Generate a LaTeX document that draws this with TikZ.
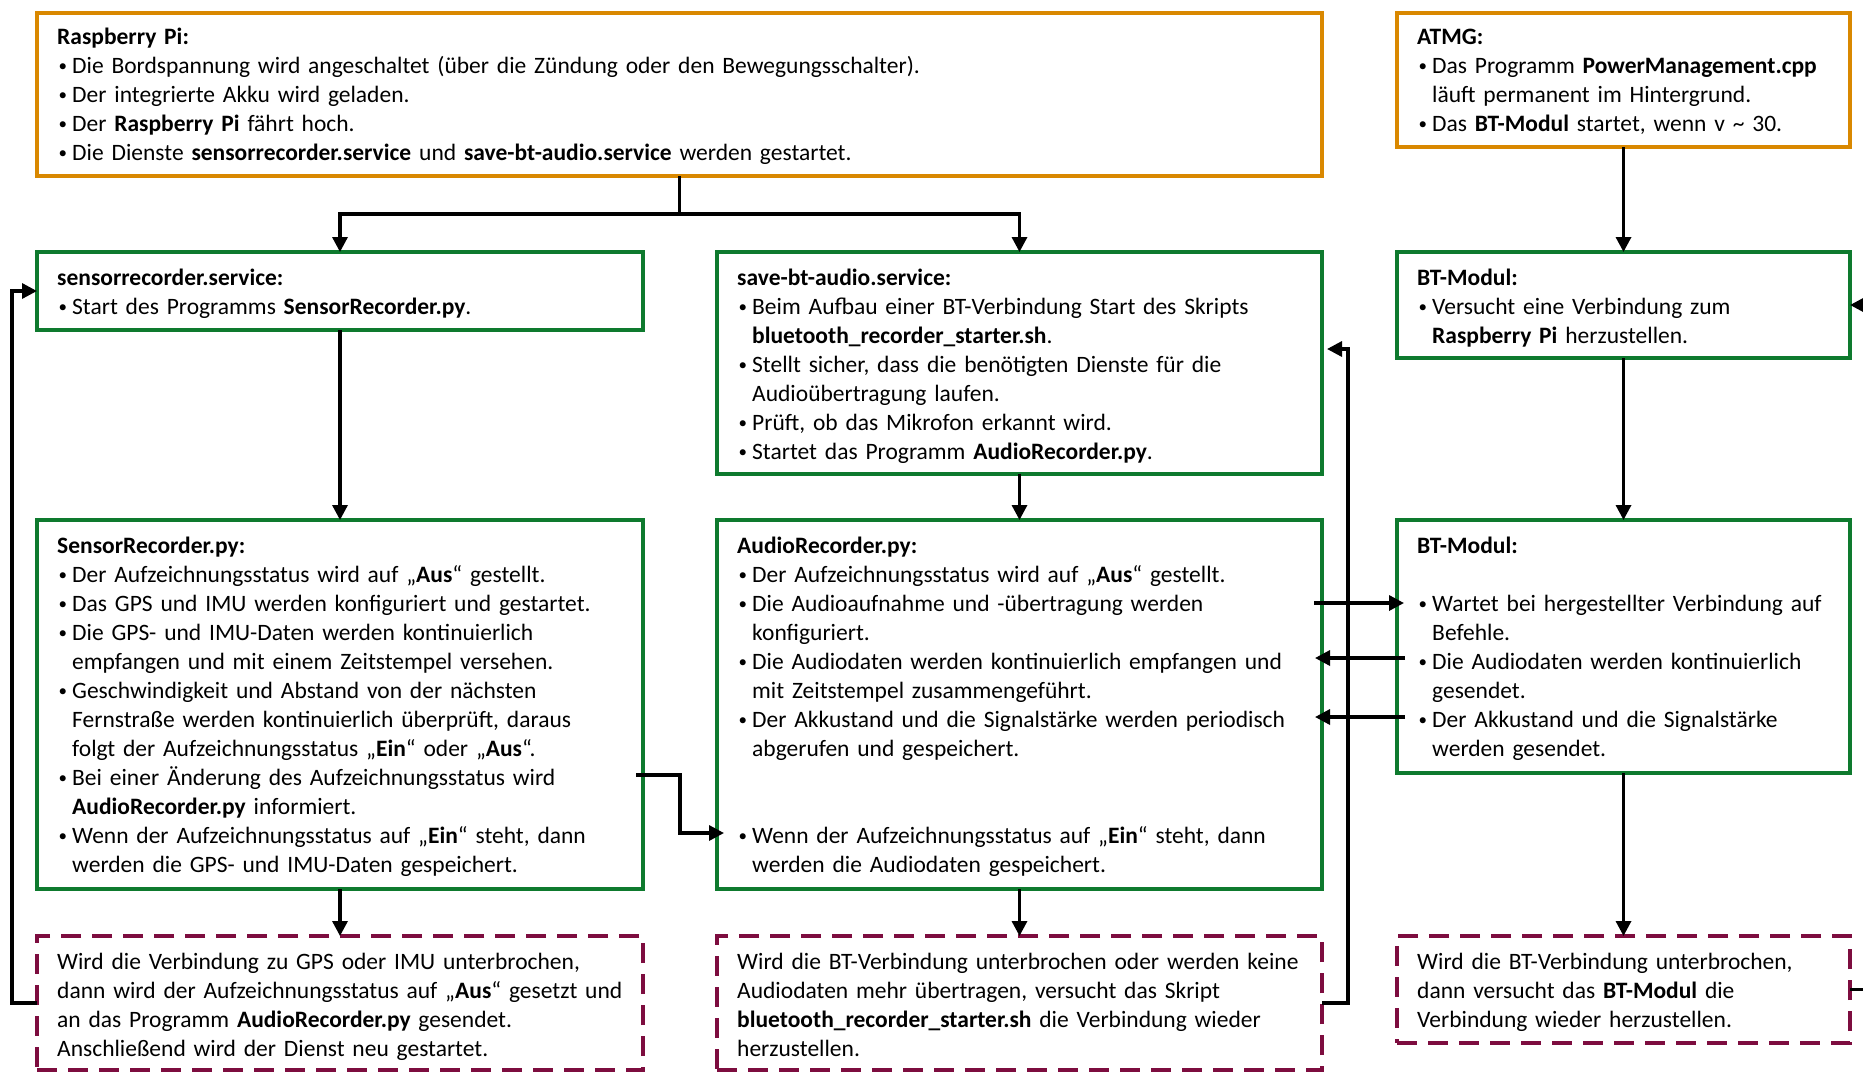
\documentclass[tikz,border=0pt]{standalone}
\usepackage{fontspec}
\setmainfont{Carlito}
\usetikzlibrary{arrows.meta,calc}
\definecolor{orangeC}{HTML}{D98800}
\definecolor{greenC}{HTML}{0E7A2E}
\definecolor{maroonC}{HTML}{7D0D3F}
\newcommand{\fs}{\fontsize{23.5}{29}\selectfont}
\newcommand{\bl}[1]{\makebox[15pt][l]{\hspace{1.5pt}\raisebox{1.8pt}{\fontsize{17}{17}\selectfont •}}#1}
\newcommand{\cl}[1]{\hspace*{15pt}#1}
\begin{document}
\begin{tikzpicture}[x=1pt,y=-1pt,
  bx/.style={rectangle, inner sep=0pt, outer sep=0pt, anchor=north west, line width=4pt},
  obox/.style={bx, draw=orangeC},
  gbox/.style={bx, draw=greenC},
  dbox/.style={bx, draw=maroonC, dash pattern=on 20pt off 11pt},
  txt/.style={anchor=base west, inner sep=0pt, align=left, text width=1100pt, font=\fs},
  ln/.style={line width=3.3pt, draw=black},
  arr/.style={ln, -{Triangle[length=15pt,width=15pt]}}]
\useasboundingbox (0,0) rectangle (1863,1072);
\fill[white] (0,0) rectangle (1863,1072);
\clip (0,0) rectangle (1863,1072);

% boxes
\node[obox, minimum width=1285pt, minimum height=163pt] (rpi) at (37,13) {};
\node[obox, minimum width=453pt, minimum height=134pt] (atmg) at (1397,13) {};
\node[gbox, minimum width=606pt, minimum height=78pt] (srs) at (37,252) {};
\node[gbox, minimum width=605pt, minimum height=222pt] (sbs) at (717,252) {};
\node[gbox, minimum width=453pt, minimum height=106pt] (bt1) at (1397,252) {};
\node[gbox, minimum width=606pt, minimum height=369pt] (srp) at (37,520) {};
\node[gbox, minimum width=605pt, minimum height=369pt] (arp) at (717,520) {};
\node[gbox, minimum width=453pt, minimum height=253pt] (bt2) at (1397,520) {};
\node[dbox, minimum width=606pt, minimum height=134pt] (d1) at (37,936) {};
\node[dbox, minimum width=605pt, minimum height=134pt] (d2) at (717,936) {};
\node[dbox, minimum width=453pt, minimum height=107pt] (d3) at (1397,936) {};

% texts
\node[txt] (trpi) at (57,44) {\textbf{Raspberry Pi:}\\
\bl{Die Bordspannung wird angeschaltet (über die Zündung oder den Bewegungsschalter).}\\
\bl{Der integrierte Akku wird geladen.}\\
\bl{Der \textbf{Raspberry Pi} fährt hoch.}\\
\bl{Die Dienste \textbf{sensorrecorder.service} und \textbf{save-bt-audio.service} werden gestartet.}};

\node[txt] (tatmg) at (1417,44) {\textbf{ATMG:}\\
\bl{Das Programm \textbf{PowerManagement.cpp}}\\
\cl{läuft permanent im Hintergrund.}\\
\bl{Das \textbf{BT-Modul} startet, wenn v \textasciitilde{} 30.}};

\node[txt] (tsrs) at (57,285) {\textbf{sensorrecorder.service:}\\
\bl{Start des Programms \textbf{SensorRecorder.py}.}};

\node[txt] (tsbs) at (737,285) {\textbf{save-bt-audio.service:}\\
\bl{Beim Aufbau einer BT-Verbindung Start des Skripts}\\
\cl{\textbf{bluetooth\_recorder\_starter.sh}.}\\
\bl{Stellt sicher, dass die benötigten Dienste für die}\\
\cl{Audioübertragung laufen.}\\
\bl{Prüft, ob das Mikrofon erkannt wird.}\\
\bl{Startet das Programm \textbf{AudioRecorder.py}.}};

\node[txt] (tbt1) at (1417,285) {\textbf{BT-Modul:}\\
\bl{Versucht eine Verbindung zum}\\
\cl{\textbf{Raspberry Pi} herzustellen.}};

\node[txt] (tsrp) at (57,553) {\textbf{SensorRecorder.py:}\\
\bl{Der Aufzeichnungsstatus wird auf „\textbf{Aus}“ gestellt.}\\
\bl{Das GPS und IMU werden konfiguriert und gestartet.}\\
\bl{Die GPS- und IMU-Daten werden kontinuierlich}\\
\cl{empfangen und mit einem Zeitstempel versehen.}\\
\bl{Geschwindigkeit und Abstand von der nächsten}\\
\cl{Fernstraße werden kontinuierlich überprüft, daraus}\\
\cl{folgt der Aufzeichnungsstatus „\textbf{Ein}“ oder „\textbf{Aus}“.}\\
\bl{Bei einer Änderung des Aufzeichnungsstatus wird}\\
\cl{\textbf{AudioRecorder.py} informiert.}\\
\bl{Wenn der Aufzeichnungsstatus auf „\textbf{Ein}“ steht, dann}\\
\cl{werden die GPS- und IMU-Daten gespeichert.}};

\node[txt] (tarp) at (737,553) {\textbf{AudioRecorder.py:}\\
\bl{Der Aufzeichnungsstatus wird auf „\textbf{Aus}“ gestellt.}\\
\bl{Die Audioaufnahme und -übertragung werden}\\
\cl{konfiguriert.}\\
\bl{Die Audiodaten werden kontinuierlich empfangen und}\\
\cl{mit Zeitstempel zusammengeführt.}\\
\bl{Der Akkustand und die Signalstärke werden periodisch}\\
\cl{abgerufen und gespeichert.}\\[58pt]
\bl{Wenn der Aufzeichnungsstatus auf „\textbf{Ein}“ steht, dann}\\
\cl{werden die Audiodaten gespeichert.}};

\node[txt] (tbt2) at (1417,553) {\textbf{BT-Modul:}\\[29pt]
\bl{Wartet bei hergestellter Verbindung auf}\\
\cl{Befehle.}\\
\bl{Die Audiodaten werden kontinuierlich}\\
\cl{gesendet.}\\
\bl{Der Akkustand und die Signalstärke}\\
\cl{werden gesendet.}};

\node[txt] (td1) at (57,969) {Wird die Verbindung zu GPS oder IMU unterbrochen,\\
dann wird der Aufzeichnungsstatus auf „\textbf{Aus}“ gesetzt und\\
an das Programm \textbf{AudioRecorder.py} gesendet.\\
Anschließend wird der Dienst neu gestartet.};

\node[txt] (td2) at (737,969) {Wird die BT-Verbindung unterbrochen oder werden keine\\
Audiodaten mehr übertragen, versucht das Skript\\
\textbf{bluetooth\_recorder\_starter.sh} die Verbindung wieder\\
herzustellen.};

\node[txt] (td3) at (1417,969) {Wird die BT-Verbindung unterbrochen,\\
dann versucht das \textbf{BT-Modul} die\\
Verbindung wieder herzustellen.};

% connectors
\coordinate (j) at (rpi.south |- 0,214);
\draw[ln] (rpi.south) -- (j);
\draw[arr] (j) -| (srs.north);
\draw[arr] (j) -| (sbs.north);
\draw[arr] (atmg.south) -- (bt1.north);
\draw[arr] (srs.south) -- (srp.north);
\draw[arr] (sbs.south) -- (arp.north);
\draw[arr] (bt1.south) -- (bt2.north);
\draw[arr] (srp.south) -- (d1.north);
\draw[arr] (arp.south) -- (d2.north);
\draw[arr] (bt2.south) -- (d3.north);

% left loop
\coordinate (lx) at (12,0);
\draw[arr] (d1.west) -| (lx |- srs.west) -- (srs.west);
% middle loop
\coordinate (mx) at (1348,0);
\coordinate (sbsin) at ($(sbs.east |- 0,349)+(5,0)$);
\draw[arr] (d2.east) -| (mx |- sbsin) -- (sbsin);
% right loop (leaves the picture)
\coordinate (rx) at (1900,0);
\draw[arr] (d3.east) -| (rx |- bt1.east) -- (bt1.east);

% SensorRecorder -> AudioRecorder
\coordinate (s1) at ($(srp.east |- 0,775)+(-7,0)$);
\coordinate (s2) at ($(arp.west |- 0,833)+(7,0)$);
\draw[arr] (s1) -- (680,775) |- (s2);

% AudioRecorder <-> BT-Modul
\coordinate (a1) at ($(arp.east |- 0,603)+(-8,0)$);
\coordinate (b1) at ($(bt2.west |- 0,603)+(7,0)$);
\draw[arr] (a1) -- (b1);
\coordinate (a2) at ($(arp.east |- 0,658)+(-7,0)$);
\coordinate (b2) at ($(bt2.west |- 0,658)+(8,0)$);
\draw[arr] (b2) -- (a2);
\coordinate (a3) at ($(arp.east |- 0,717)+(-7,0)$);
\coordinate (b3) at ($(bt2.west |- 0,717)+(8,0)$);
\draw[arr] (b3) -- (a3);
\end{tikzpicture}
\end{document}
